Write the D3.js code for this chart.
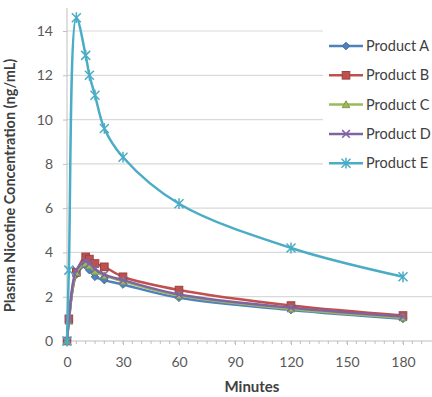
<!DOCTYPE html>
<html>
<head>
<meta charset="utf-8">
<script src="https://cdn.jsdelivr.net/npm/d3@7"></script>
<style>
  body { margin: 0; background: #fff; }
  text { font-family: Lato, "Open Sans", sans-serif; }
</style>
</head>
<body>
<div id="container"></div>
<script>
// plasma nicotine curves
const minutes = [0, 1, 5, 10, 12, 15, 20, 30, 60, 120, 180]
const productA = [0, 0.9, 3.0, 3.4, 3.2, 2.9, 2.75, 2.55, 1.95, 1.4, 1.0]
const productB = [0, 1.0, 3.1, 3.8, 3.7, 3.5, 3.35, 2.9, 2.3, 1.6, 1.15]
const productC = [0, 0.9, 3.1, 3.5, 3.4, 3.15, 2.95, 2.7, 2.05, 1.45, 1.05]
const productD = [0, 0.95, 3.2, 3.6, 3.5, 3.25, 3.0, 2.75, 2.1, 1.5, 1.1]
const productE = [0, 3.2, 14.6, 12.9, 12.0, 11.1, 9.6, 8.3, 6.2, 4.2, 2.9]
const seriesNames = ["Product A", "Product B", "Product C", "Product D", "Product E"]
const xTicks = [0, 30, 60, 90, 120, 150, 180]
const yTicks = [0, 2, 4, 6, 8, 10, 12, 14]

const width = 432,
    height = 397

const colors = ["#4F81BD", "#C0504D", "#9BBB59", "#8064A2", "#4BACC6"]
const shapes = ["diamond", "square", "triangle", "x", "star"]

const svg = d3.select("#container")
    .append("svg")
    .attr("width", width)
    .attr("height", height)

const x = d3.scaleLinear().domain([0, 195]).range([67, 431])
const y = d3.scaleLinear().domain([0, 14]).range([341, 31])

// gridlines
svg.append("g")
    .selectAll("line")
    .data(yTicks.filter(d => d > 0))
    .enter()
    .append("line")
    .attr("x1", x(0))
    .attr("x2", width)
    .attr("y1", d => y(d))
    .attr("y2", d => y(d))
    .style("stroke", "#d9d9d9")
    .style("stroke-width", 1.2)

// y axis
const yAxis = d3.axisLeft(y).tickValues(yTicks).tickSize(4).tickPadding(10)
const gy = svg.append("g").attr("transform", `translate(${x(0)},0)`).call(yAxis)
gy.select(".domain").attr("d", `M-4,${y(0)}H0V8`).style("stroke", "#bfbfbf")
gy.selectAll(".tick line").style("stroke", "#bfbfbf")
gy.selectAll(".tick text")
    .style("font-family", "Lato, sans-serif")
    .style("font-size", "14px")
    .style("fill", "#595959")

// x axis with minor ticks every 5 minutes
const xAxis = d3.axisBottom(x).tickValues(xTicks).tickSize(4).tickPadding(12)
const gx = svg.append("g").attr("transform", `translate(0,${y(0)})`).call(xAxis)
gx.select(".domain").attr("d", `M${x(0)},0H${width}`).style("stroke", "#bfbfbf")
gx.selectAll(".tick line").style("stroke", "#bfbfbf")
gx.selectAll(".tick text")
    .style("font-family", "Lato, sans-serif")
    .style("font-size", "14px")
    .style("fill", "#595959")
gx.append("g")
    .selectAll("line")
    .data(d3.range(5, 195, 5))
    .enter()
    .append("line")
    .attr("x1", d => x(d))
    .attr("x2", d => x(d))
    .attr("y1", 0)
    .attr("y2", 3)
    .style("stroke", "#bfbfbf")

// axis titles
svg.append("text")
    .attr("transform", `translate(15,${(y(0) + 30) / 2}) rotate(-90)`)
    .attr("text-anchor", "middle")
    .style("font-weight", "bold")
    .style("font-size", "14.5px")
    .style("fill", "#404040")
    .text("Plasma Nicotine Concentration (ng/mL)")

svg.append("text")
    .attr("x", 252)
    .attr("y", 392)
    .attr("text-anchor", "middle")
    .style("font-weight", "bold")
    .style("font-size", "15px")
    .style("fill", "#404040")
    .text("Minutes")

function marker(g, shape, color, size) {
    const s = size
    if (shape === "diamond") {
        g.append("path").attr("d", `M0,${-s}L${s},0L0,${s}L${-s},0Z`)
            .style("fill", color).style("stroke", d3.color(color).darker(0.5))
    } else if (shape === "square") {
        g.append("rect").attr("x", -s).attr("y", -s).attr("width", 2 * s).attr("height", 2 * s)
            .style("fill", color).style("stroke", d3.color(color).darker(0.6))
    } else if (shape === "triangle") {
        g.append("path").attr("d", `M0,${-s}L${s},${s * 0.8}L${-s},${s * 0.8}Z`)
            .style("fill", color).style("stroke", d3.color(color).darker(0.5))
    } else if (shape === "x") {
        g.append("path").attr("d", `M${-s},${-s}L${s},${s}M${-s},${s}L${s},${-s}`)
            .style("stroke", color).style("stroke-width", 1.5)
    } else {
        g.append("path").attr("d", `M${-s},${-s}L${s},${s}M${-s},${s}L${s},${-s}M0,${-s * 1.2}V${s * 1.2}`)
            .style("stroke", color).style("stroke-width", 1.5)
    }
}

const series = [productA, productB, productC, productD, productE]
const line = d3.line()
    .x(d => x(d[0]))
    .y(d => y(d[1]))
    .curve(d3.curveCatmullRom.alpha(0.5))

series.forEach((vals, i) => {
    const pts = minutes.map((m, j) => [m, vals[j]])
    svg.append("path")
        .datum(pts)
        .attr("d", line)
        .style("fill", "none")
        .style("stroke", colors[i])
        .style("stroke-width", 2.5)
    pts.forEach(p => {
        const g = svg.append("g").attr("transform", `translate(${x(p[0])},${y(p[1])})`)
        marker(g, shapes[i], colors[i], i === 4 ? 4.5 : 3.8)
    })
})

// legend
const legend = svg.append("g").attr("transform", "translate(323,30)")
legend.append("rect")
    .attr("width", 110)
    .attr("height", 148)
    .style("fill", "#fff")
seriesNames.forEach((name, i) => {
    const row = legend.append("g").attr("transform", `translate(0,${16 + i * 29.3})`)
    row.append("line")
        .attr("x1", 6).attr("x2", 40)
        .style("stroke", colors[i]).style("stroke-width", 2.5)
    marker(row.append("g").attr("transform", "translate(23,0)"), shapes[i], colors[i], i === 4 ? 4.5 : 3.8)
    row.append("text")
        .attr("x", 43)
        .attr("y", 5)
        .style("font-size", "14.5px")
        .style("fill", "#404040")
        .text(name)
})
</script>
</body>
</html>
